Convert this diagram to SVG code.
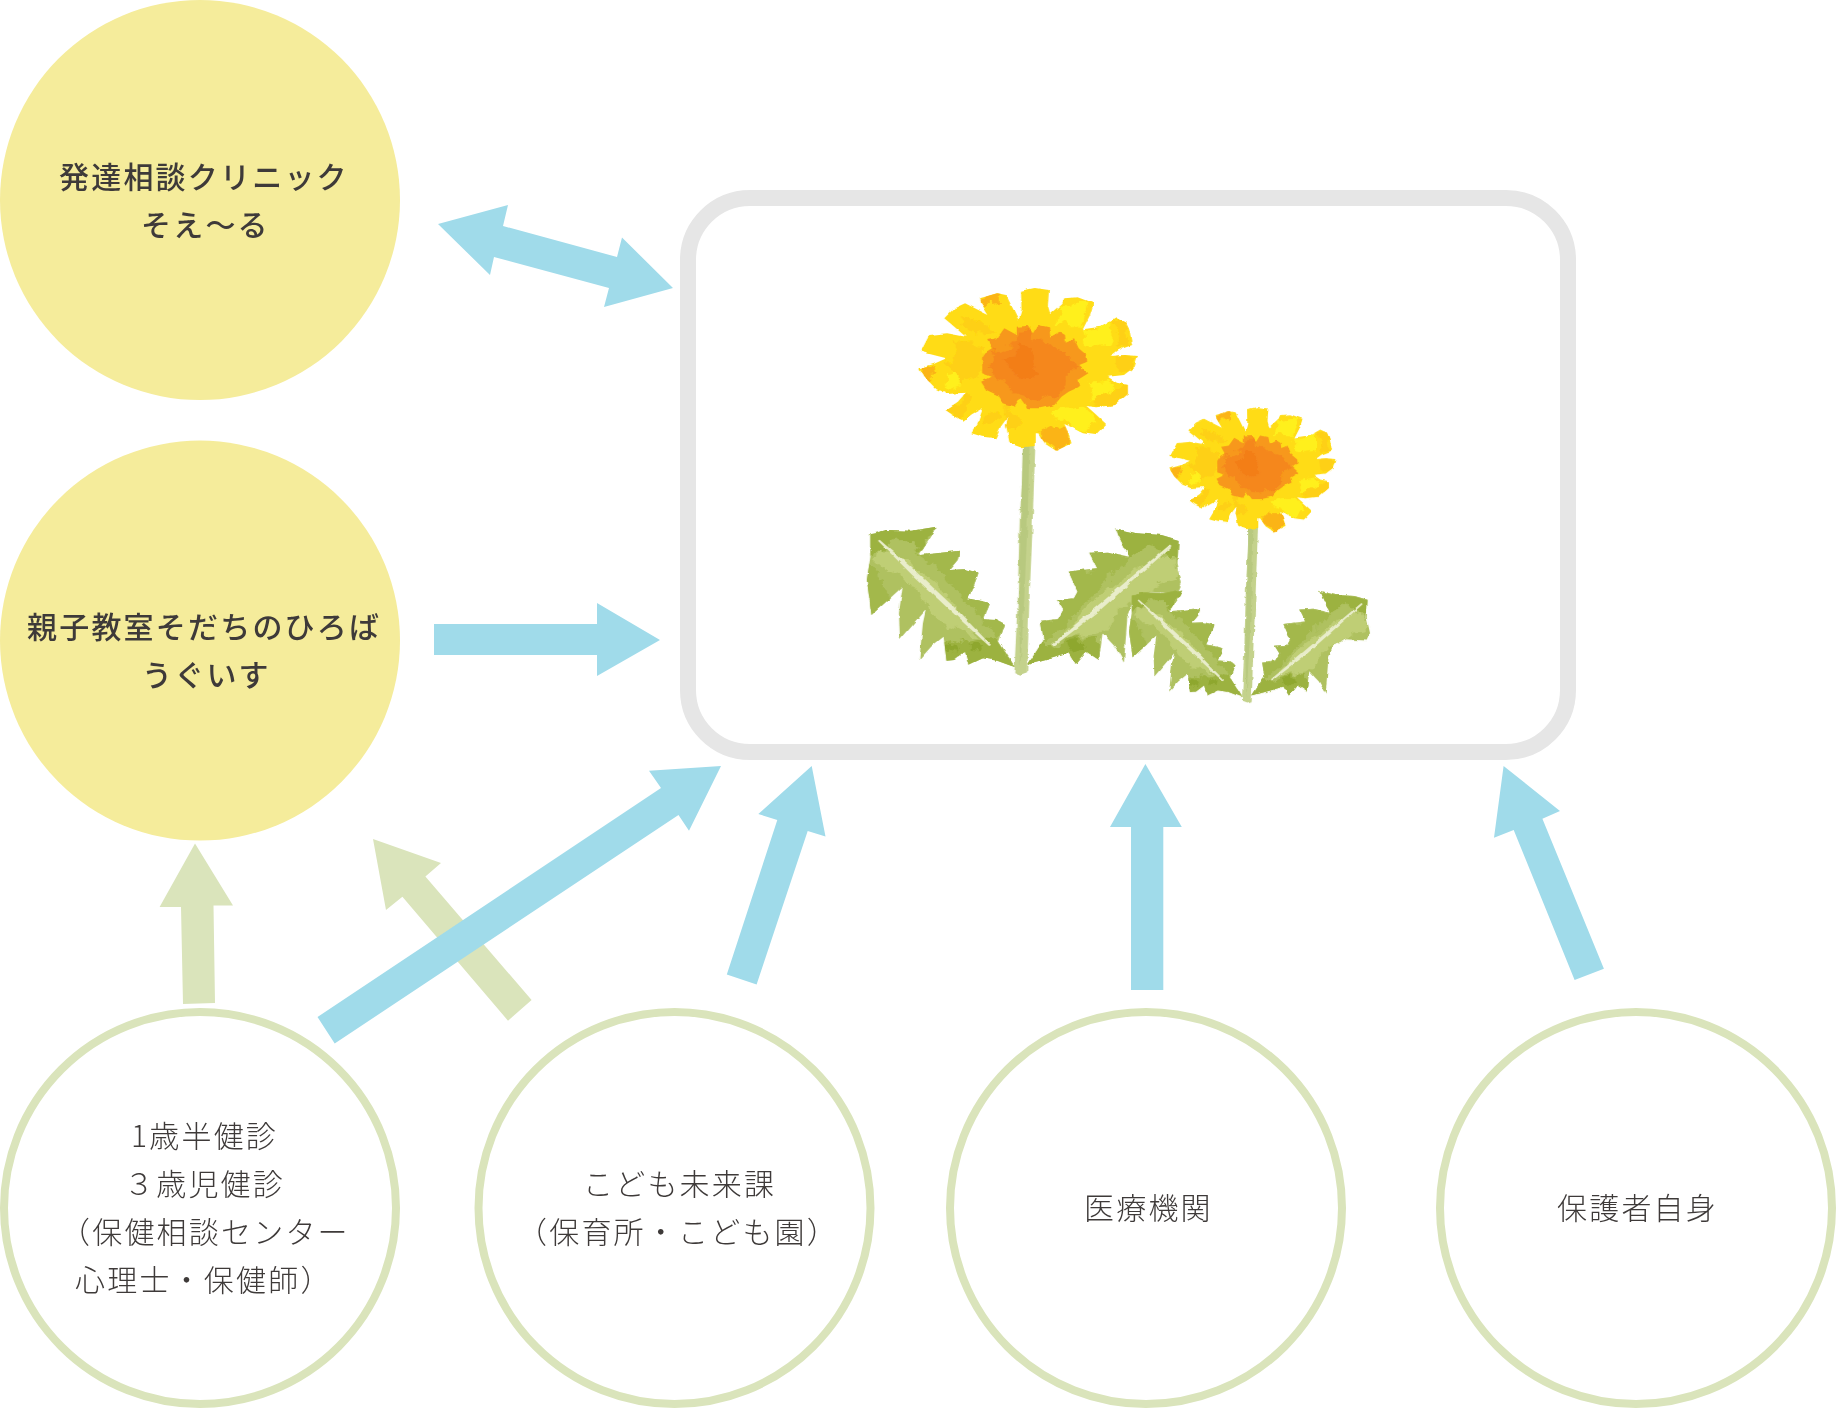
<svg xmlns="http://www.w3.org/2000/svg" width="1836" height="1408" viewBox="0 0 1836 1408">
<style>
text{font-family:"Noto Sans CJK JP","Noto Sans",sans-serif;fill:#3e3a39;font-size:30px;letter-spacing:2.2px}
.b{font-weight:500}.l{font-weight:300}
.fill-y{fill:#f5ec9b}.ring{fill:#fff;stroke:#dae4bb;stroke-width:8}
.bl{fill:#a0dbea}.gr{fill:#dae4bb}
</style>
<defs>
<filter id="rough" x="-5%" y="-5%" width="110%" height="110%">
<feTurbulence type="fractalNoise" baseFrequency=".035" numOctaves="3" seed="4" result="n"/>
<feDisplacementMap in="SourceGraphic" in2="n" scale="10" xChannelSelector="R" yChannelSelector="G"/>
</filter>
<filter id="mottle" x="-10%" y="-10%" width="120%" height="120%">
<feTurbulence type="fractalNoise" baseFrequency=".022" numOctaves="4" seed="9" result="n"/>
<feDisplacementMap in="SourceGraphic" in2="n" scale="48" xChannelSelector="R" yChannelSelector="G"/>
<feGaussianBlur stdDeviation="1.2"/>
</filter>
<path id="leafLo" d="M85 793 130 780 200 782 270 770 255 800 222 855 270 850 335 842 330 870 305 900 350 898 388 908 375 945 357 985 395 992 417 1000 400 1048 440 1050 462 1062 445 1115 490 1192 440 1172 400 1165 360 1185 350 1145 320 1170 298 1172 290 1100 255 1130 222 1170 232 1060 240 1020 200 1070 168 1110 165 1030 175 950 140 985 88 1035 75 930 85 860Z"/>
<path id="leafRo" d="M770 775 830 790 900 795 948 810 945 880 957 940 945 970 870 965 825 985 805 1035 795 1178 770 1130 735 1090 725 1170 690 1145 660 1185 640 1150 595 1165 525 1185 570 1110 562 1052 610 1048 625 1020 608 990 655 985 665 965 640 905 690 898 720 895 698 848 750 845 810 860 790 820Z"/>
<path id="heado" d="M507 62 545 54 585 60 582 110 588 132 622 100 628 85 665 82 710 100 700 135 680 178 730 170 775 142 800 155 810 180 818 225 780 240 758 258 800 255 834 258 825 290 795 315 750 320 775 338 806 345 806 372 770 405 720 412 690 408 715 432 745 462 715 495 680 490 645 470 628 462 640 490 648 520 605 542 575 522 555 490 548 490 548 528 505 532 475 520 465 470 470 440 450 470 435 505 400 500 368 490 385 460 400 415 370 432 345 452 315 435 296 420 330 395 352 368 300 372 270 358 240 325 222 295 262 282 298 265 262 255 226 245 250 195 300 190 352 200 320 170 292 145 320 115 350 100 415 135 395 100 392 85 440 70 465 75 500 150 508 120Z"/>
<clipPath id="cL"><use href="#leafLo"/></clipPath>
<clipPath id="cR"><use href="#leafRo"/></clipPath>
<clipPath id="cH"><use href="#heado"/></clipPath>
<g id="leafL">
<use href="#leafLo" fill="#afc160"/>
<g clip-path="url(#cL)"><g filter="url(#mottle)">
<path fill="#bfce74" d="M105 830 150 850 230 905 280 950 340 1030 395 1100 340 1090 280 1060 240 1000 190 930 130 900 100 870Z"/>
<path fill="#a3b84c" d="M60 930 85 880 110 930 130 970 140 985 88 1050ZM222 855 270 840 345 830 330 870 320 890 360 890 400 908 385 945 367 985 405 992 427 1000 410 1048 450 1050 472 1062 445 1115 400 1060 370 1020 330 960 300 920 260 880Z"/>
<path fill="#9cb23f" d="M75 793 130 770 200 772 280 760 255 800 222 855 205 810 150 815 110 835 75 860ZM290 1100 340 1118 400 1105 445 1115 500 1200 440 1190 400 1185 360 1195 350 1165 320 1190 290 1190Z"/>
<path fill="#8ea72f" d="M370 1120 400 1130 395 1150 365 1145ZM300 1115 325 1125 315 1150 300 1150Z"/>
</g></g>
<path fill="#e9edcb" d="M106 812 111 809 210 902 320 1012 423 1125 417 1128 310 1023 200 913Z"/>
</g>
<g id="leafR">
<use href="#leafRo" fill="#afc160"/>
<g clip-path="url(#cR)"><g filter="url(#mottle)">
<path fill="#bfce74" d="M930 850 950 930 880 950 800 1010 720 1090 640 1110 620 1090 690 1010 760 950 830 890Z"/>
<path fill="#a3b84c" d="M690 840 750 835 810 860 760 920 700 980 640 1050 590 1100 570 1110 550 1052 600 1048 615 1020 598 990 645 985 655 965 630 905 680 898 710 895Z"/>
<path fill="#9cb23f" d="M770 765 830 780 900 785 960 800 955 870 920 850 860 825 810 860 780 820ZM595 1130 650 1110 725 1100 735 1190 690 1190 660 1195 640 1190 595 1190 515 1195 570 1110Z"/>
<path fill="#8ea72f" d="M640 1120 680 1115 690 1135 650 1145Z"/>
</g></g>
<path fill="#e9edcb" d="M925 823 931 827 830 923 720 1028 600 1127 594 1122 710 1017 820 917Z"/>
</g>
<g id="head">
<use href="#heado" fill="#ffdc14"/>
<g clip-path="url(#cH)"><g filter="url(#mottle)">
<path fill="#fff01e" d="M620 110 700 100 680 170 600 165ZM600 420 680 410 720 460 680 480 620 450ZM290 310 340 300 350 345 300 360ZM690 340 760 330 770 380 700 395ZM680 180 760 170 760 220 690 230Z"/>
<path fill="#fed016" d="M330 210 400 230 395 300 350 345 330 320 300 290 320 270ZM450 410 500 430 520 470 470 480 460 440ZM760 165 800 155 818 225 775 230 790 190ZM770 262 834 258 820 295 780 310ZM720 385 806 345 806 372 770 405 710 408ZM296 420 350 375 370 390 340 430 345 452ZM400 440 430 410 445 440 420 470 395 465ZM340 130 400 170 430 180 390 200 330 160Z"/>
<path fill="#fbb417" d="M555 490 590 470 630 470 648 520 605 542 570 515ZM392 85 440 70 445 95 410 100ZM222 295 262 282 270 310 250 335Z"/>
</g></g>
<path fill="#f7981c" d="M495 170 525 168 540 190 555 165 585 172 590 200 615 185 630 195 632 215 655 205 668 235 690 255 692 275 670 285 695 310 665 330 670 350 640 365 620 380 600 405 560 415 525 415 505 385 490 410 455 400 440 375 410 360 395 335 425 320 398 310 398 265 410 245 425 235 412 210 440 205 460 175 495 195Z"/>
<g filter="url(#mottle)">
<path fill="#f5871f" d="M490 215 520 175 545 215 565 205 600 235 640 250 660 290 625 330 610 365 560 385 500 380 470 340 430 325 425 265 450 235Z"/>
<path fill="#f37e18" d="M500 220 530 240 540 280 560 300 530 335 500 320 470 300 460 265 490 255Z"/>
</g>
</g>
<g id="plant">
<path fill="#c4d28c" d="M512 525 547 525 543 640 538 800 530 1000 524 1210 505 1217 488 1210 497 1000 503 750 510 620Z"/>
<path fill="#b8c97f" d="M512 530 530 530 525 750 515 1000 505 1190 500 1000 507 750Z"/>
<use href="#leafL"/><use href="#leafR"/><use href="#head"/>
</g>
</defs>
<g id="connectors">
<polygon class="gr" points="195,843.5 233,905.5 213.5,905.5 215,1003 183,1004 181,907 159.6,907"/>
<polygon class="gr" points="373,839 441,863 425.4,876.5 531.6,1000 508,1020.7 402.4,896.8 386,910"/>
<polygon class="bl" points="438,224 508,205 503,226 617,257 622,237.5 673,288 604,307 609,288 494,257 490,275"/>
<polygon class="bl" points="434,624 597,624 597,603 660,640 597,676 597,655 434,655"/>
<polygon class="bl" points="317.5,1017 661,788 649,770.7 721,766 689,830.7 678.5,815 334.7,1043.5"/>
<polygon class="bl" points="726.8,974.5 777.3,820 758.3,814 811.7,766 825.5,836.4 807.7,831 756.6,984.4"/>
<polygon class="bl" points="1145.4,764 1181.8,827 1163.3,827 1163.3,990 1131,990 1131,827 1110,827"/>
<polygon class="bl" points="1503.6,766 1560,811 1542.4,818.7 1603.9,968.7 1574.6,980 1513.7,830 1494,837.7"/>
</g>
<g id="node-center">
<rect x="688" y="198" width="880" height="554" rx="62" fill="#fff" stroke="#e6e6e6" stroke-width="16"/>
<g transform="translate(840 270) scale(.35714 .33333)">
<g filter="url(#rough)">
<use href="#plant"/>
<use href="#plant" transform="translate(752 370) scale(.765)"/>
</g>
</g>
</g>
<g id="node-sodan">
<circle class="fill-y" cx="200" cy="200" r="200"/>
<text class="b" x="59" y="187.500">発達相談クリニック</text>
<text class="b" x="141" y="236">そえ〜る</text>
</g>
<g id="node-hiroba">
<circle class="fill-y" cx="200" cy="640.6" r="200"/>
<text class="b" x="27" y="637.500">親子教室そだちのひろば</text>
<text class="b" x="142" y="685.500">うぐいす</text>
</g>
<g id="node-kenshin">
<circle class="ring" cx="200" cy="1208" r="196"/>
<text class="l" x="131" y="1147">1歳半健診</text>
<text class="l" x="124" y="1195">３歳児健診</text>
<text class="l" x="60" y="1243">（保健相談センター</text>
<text class="l" x="75" y="1291">心理士・保健師）</text>
</g>
<g id="node-kodomo">
<circle class="ring" cx="674.5" cy="1208" r="196"/>
<text class="l" x="583" y="1195">こども未来課</text>
<text class="l" x="517" y="1243">（保育所・こども園）</text>
</g>
<g id="node-iryo">
<circle class="ring" cx="1146" cy="1208" r="196"/>
<text class="l" x="1084" y="1219">医療機関</text>
</g>
<g id="node-hogosha">
<circle class="ring" cx="1636" cy="1208" r="196"/>
<text class="l" x="1557" y="1219">保護者自身</text>
</g>
</svg>
